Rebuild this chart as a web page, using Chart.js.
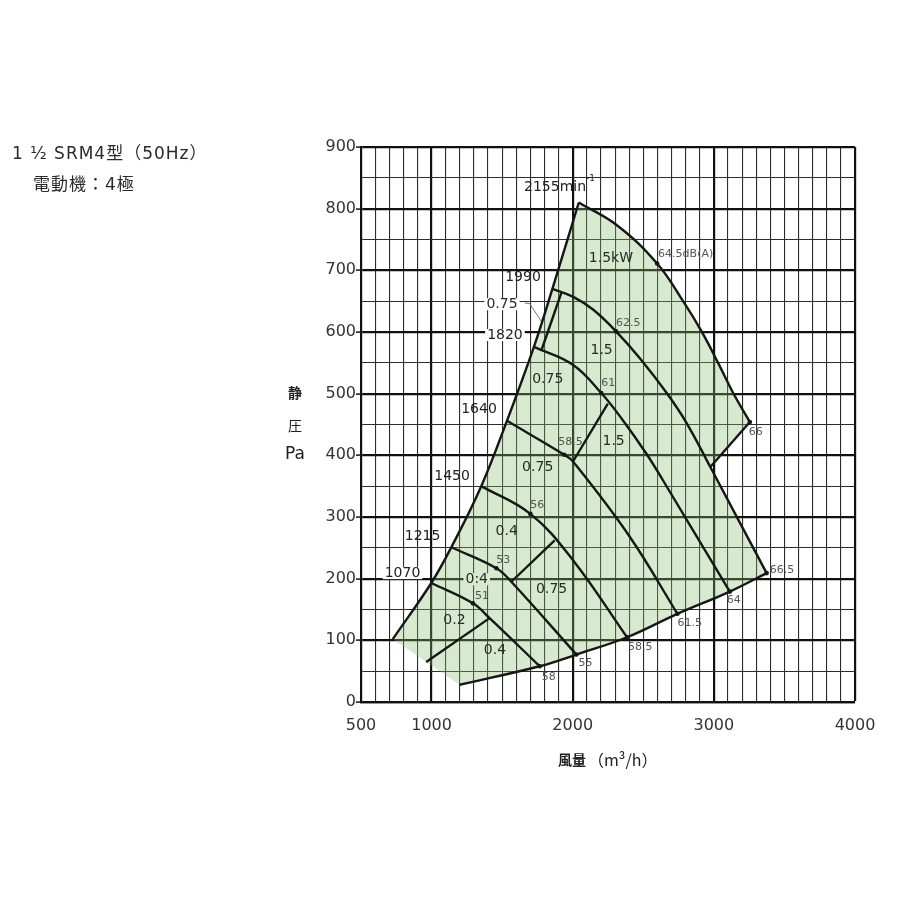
<!DOCTYPE html>
<html lang="ja">
<head>
<meta charset="utf-8">
<title>1 1/2 SRM4型（50Hz）</title>
<script src="https://cdn.jsdelivr.net/npm/chart.js@4.4.1/dist/chart.umd.min.js"></script>
<style>
  html, body { margin: 0; padding: 0; background: #fff; }
  #wrap { position: relative; width: 900px; height: 900px; }
  #chart { position: absolute; left: 0; top: 0; }
  .head { position: absolute; font-family: "DejaVu Sans", "Noto Sans CJK JP", sans-serif; font-size: 17px; line-height: 20px; letter-spacing: 1px; color: #2a2a2a; white-space: nowrap; }
</style>
</head>
<body>
<div id="wrap">
  <canvas id="chart" width="900" height="900"></canvas>
  <div class="head" style="left:12px; top:143px;">1 ½ SRM4型（50Hz）</div>
  <div class="head" style="left:33px; top:174px;">電動機：4極</div>
</div>
<script>
// 軸の目盛
const flowTickLabels = [500, 1000, 2000, 3000, 4000];
const pressureTickLabels = [0, 100, 200, 300, 400, 500, 600, 700, 800, 900];

// サージ線と回転数ごとの特性曲線 [風量 m3/h, 静圧 Pa]
const surgeLine = [[725, 102], [998, 193], [1140, 251], [1352, 350], [1534, 456], [1725, 576], [1856, 670], [2043, 810]];
const rpm2155 = [[2043, 810], [2320, 772], [2598, 711], [2782, 650], [2913, 601], [3030, 550], [3137, 501], [3255, 454]];
const rpm1990 = [[1856, 670], [2004, 657], [2146, 636], [2307, 601], [2477, 557], [2666, 501], [2808, 452], [2975, 381], [3374, 209]];
const rpm1820 = [[1725, 576], [2001, 547], [2202, 501], [2355, 457], [2521, 403], [2638, 360], [3113, 179]];
const rpm1640 = [[1534, 456], [1940, 401], [2002, 390], [2404, 268], [2742, 143]];
const rpm1450 = [[1352, 350], [1700, 305], [2002, 230], [2385, 105]];
const rpm1215 = [[1140, 251], [1459, 217], [1565, 195], [2026, 77]];
const rpm1070 = [[998, 193], [1293, 160], [1411, 136], [1766, 58]];
const maxFlowLine = [[1199, 28], [1766, 58], [2026, 77], [2385, 105], [2742, 143], [3113, 179], [3374, 209]];

// 電動機出力の境界線
const kwLine02 = [[962, 65], [1411, 136]];
const kwLine04 = [[1565, 195], [1872, 262]];
const kwLine075 = [[2002, 390], [2249, 484]];
const kwLine075b = [[1778, 570], [1920, 664]];
const kwLine15 = [[2975, 381], [3255, 454]];
const leaderLine = [[1660, 647], [1695, 646], [1778, 617]];

// 騒音値 dB(A)
const noisePoints = [[2598, 711], [2307, 601], [2202, 501], [1940, 401], [1700, 305], [1459, 217], [1293, 160],
  [1766, 58], [2026, 77], [2385, 105], [2742, 143], [3113, 179], [3374, 209], [3255, 454]];
const noiseLevels = ['64.5dB(A)', '62.5', '61', '58.5', '56', '53', '51', '58', '55', '58.5', '61.5', '64', '66.5', '66'];
const noiseOffsets = [[1, -9], [0, -8], [0, -10], [-6, -13], [0, -9], [0, -8], [2, -7],
  [2, 11], [2, 9], [1, 10], [0, 9], [-3, 9], [3, -3], [-1, 10]];

// 文字の注記（データ座標）
const speedTags = [['2155min', 1875, 835], ['1990', 1648, 689], ['1820', 1520, 595, 'w'], ['1640', 1336, 474],
  ['1450', 1145, 366], ['1215', 936, 269], ['1070', 794, 209, 'w']];
const powerTags = [['1.5kW', 2271, 720], ['1.5', 2205, 571], ['0.75', 1823, 524], ['1.5', 2290, 422],
  ['0.75', 1752, 381], ['0.4', 1532, 276], ['0:4', 1320, 199, 'g'], ['0.75', 1851, 182],
  ['0.2', 1162, 133], ['0.4', 1449, 83], ['0.75', 1499, 645, 'w']];

const INK = '#161616';
const SHADE = 'rgba(135, 189, 106, 0.33)';
const SHADE_SOLID = 'rgb(215, 233, 206)';
const NUM_FONT = '"DejaVu Sans", "Noto Sans", sans-serif';
const JP_FONT = '"Noto Sans CJK JP", "Noto Sans", sans-serif';

const toXY = (pts) => pts.map(([x, y]) => ({ x, y }));
const curve = (label, pts, extra) => Object.assign({
  label,
  data: toXY(pts),
  borderColor: INK,
  borderWidth: 2.4,
  pointRadius: 0,
  tension: 0.4,
  fill: false,
}, extra || {});
const straight = (label, pts, extra) => curve(label, pts, Object.assign({ tension: 0 }, extra || {}));

const datasets = [
  curve('surge', surgeLine),          // 0
  curve('2155', rpm2155),             // 1
  curve('1990', rpm1990),             // 2
  curve('1820', rpm1820),             // 3
  curve('1640', rpm1640),             // 4
  curve('1450', rpm1450),             // 5
  curve('1215', rpm1215),             // 6
  curve('1070', rpm1070),             // 7
  curve('max', maxFlowLine),          // 8
  straight('kw02', kwLine02),         // 9
  straight('kw04', kwLine04),         // 10
  straight('kw075', kwLine075),       // 11
  straight('kw075b', kwLine075b),     // 12
  straight('kw15', kwLine15),         // 13
  straight('leader', leaderLine, { borderColor: '#777', borderWidth: 1 }), // 14
  {
    label: 'noise',
    data: toXY(noisePoints),
    showLine: false,
    pointRadius: 2.3,
    pointBackgroundColor: INK,
    pointBorderWidth: 0,
  },
];

// 運転範囲の塗り（各曲線の線要素をそのままなぞる）
const shadeParts = [[0, 0, false], [1, 0, false], [13, 0, false], [2, 7, false], [8, 0, true]];
const shadePlugin = {
  id: 'shade',
  beforeDatasetsDraw(chart) {
    const ctx = chart.ctx;
    ctx.save();
    ctx.beginPath();
    let first = true;
    shadeParts.forEach(([idx, from, rev]) => {
      const line = chart.getDatasetMeta(idx).dataset;
      line.updateControlPoints(chart.chartArea, 'x');
      const n = line.points.length;
      line.pathSegment(ctx, { start: from, end: n - 1, loop: false }, { move: first, reverse: rev });
      first = false;
    });
    ctx.closePath();
    ctx.fillStyle = SHADE;
    ctx.fill();
    ctx.restore();
  },
};

function tag(ctx, text, cx, cy, font, color, bg) {
  ctx.font = font;
  const w = ctx.measureText(text).width;
  if (bg) {
    ctx.fillStyle = bg === 'g' ? SHADE_SOLID : '#fff';
    ctx.fillRect(cx - w / 2 - 2, cy - 6, w + 4, 12);
  }
  ctx.fillStyle = color;
  ctx.textAlign = 'center';
  ctx.textBaseline = 'middle';
  ctx.fillText(text, cx, cy);
  return w;
}

const textPlugin = {
  id: 'texts',
  afterDatasetsDraw(chart) {
    const ctx = chart.ctx;
    const sx = chart.scales.x, sy = chart.scales.y;
    ctx.save();
    speedTags.forEach(([t, x, y, bg]) => {
      const cx = sx.getPixelForValue(x), cy = sy.getPixelForValue(y);
      const w = tag(ctx, t, cx, cy, '14px ' + NUM_FONT, '#222', bg);
      if (t.endsWith('min')) {
        ctx.font = '9px ' + NUM_FONT;
        ctx.textAlign = 'left';
        ctx.fillText('-1', cx + w / 2, cy - 8);
      }
    });
    powerTags.forEach(([t, x, y, bg]) => {
      tag(ctx, t, sx.getPixelForValue(x), sy.getPixelForValue(y), '14px ' + NUM_FONT, '#2a2a2a', bg);
    });
    ctx.font = '11px ' + NUM_FONT;
    ctx.fillStyle = '#555';
    ctx.textAlign = 'left';
    ctx.textBaseline = 'middle';
    noisePoints.forEach(([x, y], i) => {
      const [dx, dy] = noiseOffsets[i];
      ctx.fillText(noiseLevels[i], sx.getPixelForValue(x) + dx, sy.getPixelForValue(y) + dy);
    });
    // 軸タイトル
    ctx.fillStyle = '#222';
    ctx.textAlign = 'center';
    ctx.font = 'bold 14px ' + JP_FONT;
    ctx.fillText('静', 295, 393);
    ctx.font = '14px ' + JP_FONT;
    ctx.fillText('圧', 295, 426);
    ctx.font = '17px ' + NUM_FONT;
    ctx.fillText('Pa', 295, 455);
    const midX = (chart.chartArea.left + chart.chartArea.right) / 2;
    ctx.font = 'bold 14px ' + JP_FONT;
    ctx.textAlign = 'right';
    ctx.fillText('風量', midX - 22, 760);
    ctx.font = '16px ' + JP_FONT;
    ctx.textAlign = 'left';
    ctx.fillText('（m³/h）', midX - 20, 760);
    ctx.restore();
  },
};

new Chart(document.getElementById('chart'), {
  type: 'line',
  data: { datasets },
  plugins: [shadePlugin, textPlugin],
  options: {
    responsive: false,
    animation: false,
    devicePixelRatio: 1,
    layout: { padding: { top: 147, right: 45, bottom: 0, left: 0 } },
    plugins: { legend: { display: false }, tooltip: { enabled: false } },
    scales: {
      x: {
        type: 'linear',
        min: 500,
        max: 4000,
        afterFit: (s) => { s.height = 198; },
        ticks: {
          stepSize: 100,
          autoSkip: false,
          maxRotation: 0,
          padding: 14,
          color: '#333',
          font: { family: NUM_FONT, size: 16 },
          callback: (v) => (flowTickLabels.includes(v) ? v : ''),
        },
        grid: {
          drawTicks: false,
          color: (c) => (c.tick && c.tick.value % 1000 === 0 ? '#111' : '#2c2c2c'),
          lineWidth: (c) => (c.tick && c.tick.value % 1000 === 0 ? 2.2 : 1.1),
        },
        border: { color: '#111', width: 2.2 },
      },
      y: {
        min: 0,
        max: 900,
        afterFit: (s) => { s.width = 361; },
        ticks: {
          stepSize: 50,
          padding: 0,
          color: '#333',
          font: { family: NUM_FONT, size: 16 },
          callback: (v) => (pressureTickLabels.includes(v) ? v : ''),
        },
        grid: {
          tickLength: 5,
          tickColor: (c) => (c.tick && c.tick.value % 100 === 0 ? '#111' : 'rgba(0,0,0,0)'),
          tickWidth: 1.5,
          color: (c) => (c.tick && c.tick.value % 100 === 0 ? '#111' : '#2c2c2c'),
          lineWidth: (c) => (c.tick && c.tick.value % 100 === 0 ? 2.2 : 1.1),
        },
        border: { color: '#111', width: 2.2 },
      },
    },
  },
});
</script>
</body>
</html>
